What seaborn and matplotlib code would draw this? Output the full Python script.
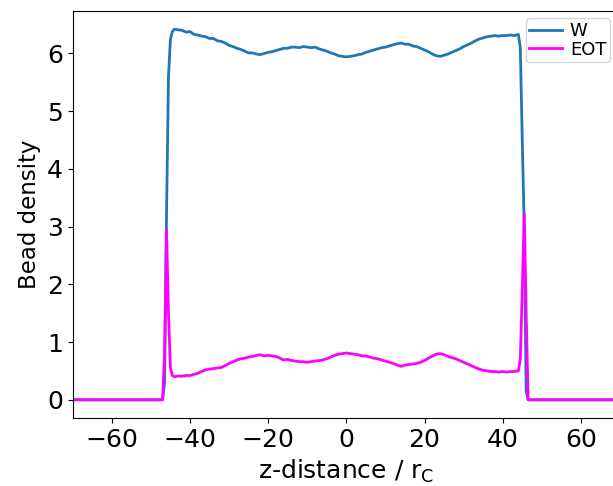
import matplotlib
matplotlib.use("Agg")
import matplotlib.pyplot as plt
import seaborn as sns
import pandas as pd

# z positions (r_C)
z = [-70, -47, -46.5, -46, -45.5, -45, -44.5,
     -44, -43, -42, -41, -40, -39, -38, -37, -36, -35, -34, -33, -32, -31,
     -30, -29, -28, -27, -26, -25, -24, -23, -22, -21,
     -20, -19, -18, -17, -16, -15, -14, -13, -12, -11,
     -10, -9, -8, -7, -6, -5, -4, -3, -2, -1,
     0, 1, 2, 3, 4, 5, 6, 7, 8, 9,
     10, 11, 12, 13, 14, 15, 16, 17, 18, 19,
     20, 21, 22, 23, 24, 25, 26, 27, 28, 29,
     30, 31, 32, 33, 34, 35, 36, 37, 38, 39,
     40, 41, 42, 43, 44, 44.5, 45, 45.5, 46, 46.5, 47, 70]

w_density = [0.0, 0.0, 0.3, 3.2, 5.6, 6.25, 6.38,
             6.42, 6.41, 6.40, 6.37, 6.38, 6.33, 6.32, 6.30, 6.29, 6.26, 6.26, 6.22, 6.21, 6.18,
             6.14, 6.12, 6.09, 6.07, 6.04, 6.01, 6.01, 5.99, 5.98, 6.00,
             6.02, 6.03, 6.05, 6.07, 6.09, 6.09, 6.11, 6.11, 6.10, 6.12,
             6.11, 6.10, 6.11, 6.08, 6.06, 6.04, 6.01, 5.99, 5.96, 5.95,
             5.94, 5.95, 5.96, 5.98, 5.99, 6.02, 6.04, 6.06, 6.08, 6.10,
             6.11, 6.13, 6.15, 6.17, 6.18, 6.16, 6.16, 6.13, 6.12, 6.09,
             6.06, 6.03, 5.99, 5.96, 5.95, 5.97, 5.99, 6.02, 6.05, 6.08,
             6.12, 6.15, 6.18, 6.22, 6.25, 6.27, 6.29, 6.30, 6.31, 6.30,
             6.31, 6.31, 6.32, 6.31, 6.33, 6.1, 4.5, 3.0, 0.15, 0.0, 0.0, 0.0]

eot_density = [0.0, 0.0, 0.8, 2.95, 1.5, 0.55, 0.42,
               0.40, 0.41, 0.41, 0.42, 0.42, 0.44, 0.46, 0.49, 0.52, 0.53, 0.54, 0.55, 0.56, 0.59,
               0.63, 0.66, 0.69, 0.71, 0.72, 0.74, 0.75, 0.77, 0.78, 0.76,
               0.77, 0.76, 0.75, 0.72, 0.69, 0.70, 0.68, 0.67, 0.66, 0.66,
               0.65, 0.66, 0.67, 0.68, 0.69, 0.71, 0.74, 0.77, 0.79, 0.80,
               0.81, 0.80, 0.79, 0.78, 0.76, 0.76, 0.74, 0.72, 0.71, 0.69,
               0.67, 0.65, 0.63, 0.60, 0.58, 0.60, 0.61, 0.62, 0.63, 0.65,
               0.68, 0.72, 0.76, 0.79, 0.80, 0.78, 0.75, 0.73, 0.71, 0.68,
               0.65, 0.62, 0.59, 0.56, 0.53, 0.51, 0.50, 0.49, 0.49, 0.48,
               0.49, 0.48, 0.49, 0.49, 0.50, 0.7, 1.9, 3.22, 1.5, 0.0, 0.0, 0.0]

series_names = ["W", "EOT"]
series_colors = ["#1f77b4", "#ff00ff"]

df = pd.DataFrame({
    "z": z * 2,
    "density": w_density + eot_density,
    "species": [series_names[0]] * len(z) + [series_names[1]] * len(z),
})

fig = plt.figure(figsize=(6.13, 4.86), dpi=100)
ax = fig.add_axes([72.7 / 613, (486 - 418.3) / 486, (620 - 72.7) / 613, (418.3 - 10.7) / 486])

sns.lineplot(data=df, x="z", y="density", hue="species", hue_order=series_names,
             palette=series_colors, sort=False, estimator=None, linewidth=2.0, ax=ax)

ax.set_xlim(-70, 70)
ax.set_xticks([-60, -40, -20, 0, 20, 40, 60])
ax.set_yticks([0, 1, 2, 3, 4, 5, 6])
ax.tick_params(labelsize=18)
ax.set_xlabel(r"z-distance / r$_\mathregular{C}$", fontsize=18, labelpad=4)
ax.set_ylabel("Bead density", fontsize=16.5)

leg = ax.legend(loc="upper right", bbox_to_anchor=(610 / 613, 1 - 18.3 / 486),
                bbox_transform=fig.transFigure, borderaxespad=0, fontsize=13,
                handlelength=1.8, handletextpad=0.45, borderpad=0.2,
                labelspacing=0.05)

fig.savefig("out.png", dpi=100)
